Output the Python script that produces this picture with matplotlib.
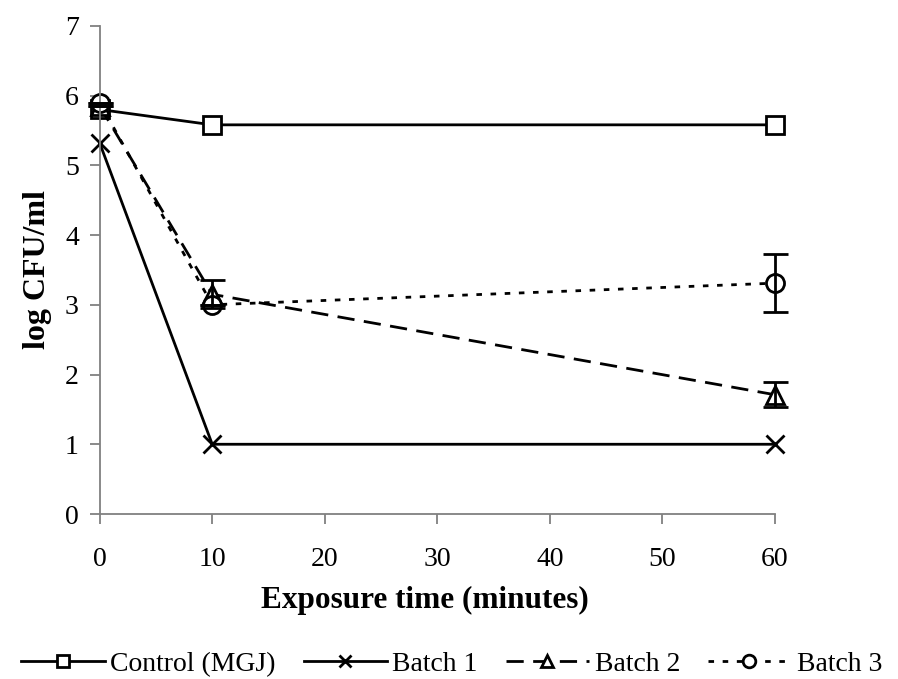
import numpy as np
import matplotlib.pyplot as plt

plt.rcParams['font.family'] = ['Liberation Serif', 'DejaVu Serif']

# Dados
tempo = [0, 10, 60]
controle = [5.80, 5.58, 5.58]
batch1 = [5.32, 1.00, 1.00]
batch2 = [5.85, 3.15, 1.71]
batch3 = [5.90, 3.00, 3.31]
erro_b2 = [0.0, 0.20, 0.18]
erro_b3 = [0.0, 0.0, 0.42]

fig = plt.figure(figsize=(8.98, 6.79), dpi=100)
ax = fig.add_axes([0.111, 0.243, 0.752, 0.719])

estilo = dict(color='black', lw=2, ms=13, mfc='white', mec='black', mew=2, clip_on=False)
ax.plot(tempo, controle, marker='s', ls='-', label='Control (MGJ)', **estilo)
ax.plot(tempo, batch1, marker='x', ls='-', label='Batch 1', **estilo)
ax.plot(tempo, batch2, marker='^', dashes=(6.2, 3.4), label='Batch 2', **estilo)
ax.plot(tempo, batch3, marker='o', dashes=(2.0, 3.1), label='Batch 3', **estilo)

# barras de erro por cima dos marcadores
ax.errorbar(tempo, batch2, yerr=erro_b2, fmt='none', ecolor='black', elinewidth=2,
            capsize=9, capthick=2, zorder=3, clip_on=False)
ax.errorbar(tempo, batch3, yerr=erro_b3, fmt='none', ecolor='black', elinewidth=2,
            capsize=9, capthick=2, zorder=3, clip_on=False)

ax.set_xlim(0, 60)
ax.set_ylim(0, 7)
ax.set_xticks(np.arange(0, 61, 10))
ax.set_yticks(np.arange(0, 8, 1))
for s in ['top', 'right']:
    ax.spines[s].set_visible(False)
for s in ['left', 'bottom']:
    ax.spines[s].set_color('#808080')
    ax.spines[s].set_linewidth(1.3)
ax.tick_params(axis='both', direction='out', length=7, width=1.3, color='#808080',
               labelsize=20)
ax.tick_params(axis='x', pad=17)
ax.tick_params(axis='y', pad=8)

ax.set_xlabel('Exposure time (minutes)', fontsize=22.5, fontweight='bold')
ax.xaxis.set_label_coords(0.482, -0.148)
ax.set_ylabel('log CFU/ml', fontsize=23, fontweight='bold')
ax.yaxis.set_label_coords(-0.071, 0.5)

handles, labels = ax.get_legend_handles_labels()
fig.legend(handles, labels, loc='center', bbox_to_anchor=(0.503, 0.022), ncol=4,
           frameon=False, fontsize=20, markerscale=0.7, handlelength=3.0,
           handletextpad=0.2, columnspacing=1.0)

fig.savefig('out.png', dpi=100)
